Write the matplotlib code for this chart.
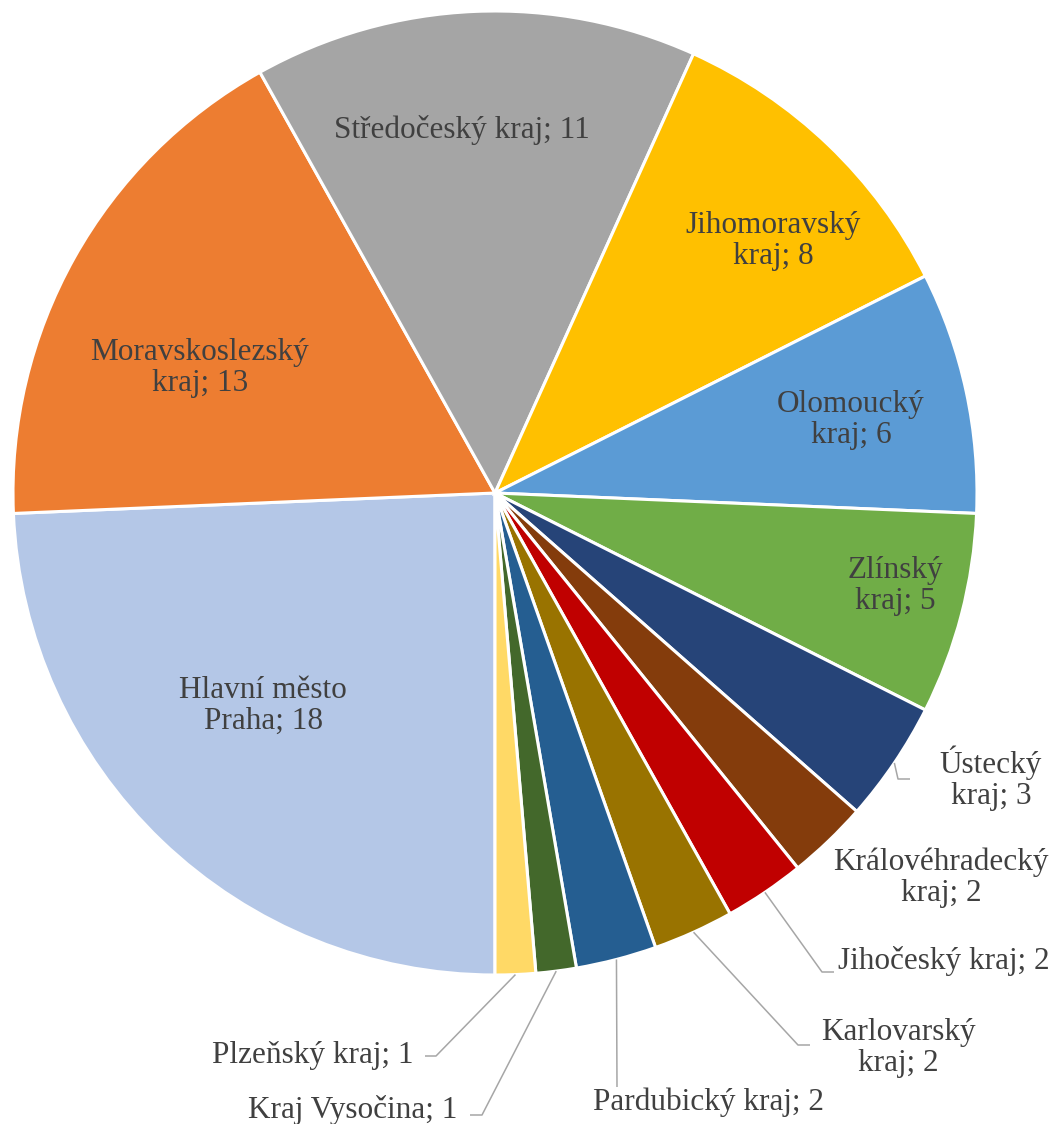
#!/usr/bin/env python3
# pie of regions (kraje), Excel-like look
import numpy as np
import matplotlib
matplotlib.use("Agg")
import matplotlib.pyplot as plt

# ----------------------------- Data -----------------------------
regions = [
    "Hlavní město\nPraha", "Moravskoslezský\nkraj", "Středočeský kraj",
    "Jihomoravský\nkraj", "Olomoucký\nkraj", "Zlínský\nkraj",
    "Ústecký\nkraj", "Královéhradecký\nkraj", "Jihočeský kraj",
    "Karlovarský\nkraj", "Pardubický kraj", "Kraj Vysočina", "Plzeňský kraj",
]
counts = [18, 13, 11, 8, 6, 5, 3, 2, 2, 2, 2, 1, 1]
colors = [
    "#B4C7E7", "#ED7D31", "#A5A5A5", "#FFC000", "#5B9BD5", "#70AD47",
    "#264478", "#843C0C", "#C00000", "#997300", "#255E91", "#43682B", "#FFD966",
]

# ----------------------------- Layout -----------------------------
W, H = 1059, 1124
CX, CY, R = 495, 493, 482          # pie centre / radius in pixels

def px(x, y):
    """pixel (from top-left) -> data coords, pie centre at 0,0, radius 1"""
    return (x - CX) / R, (CY - y) / R

# label anchor (pixel centre), alignment, optional leader (elbow, end) in pixels
label_layout = {
    0:  dict(pos=(263, 706), ha="center"),
    1:  dict(pos=(200, 368), ha="center"),
    2:  dict(pos=(462, 130), ha="center"),
    3:  dict(pos=(773, 241), ha="center"),
    4:  dict(pos=(851, 420), ha="center"),
    5:  dict(pos=(895, 586), ha="center"),
    6:  dict(pos=(991, 778), ha="center", lead=[(898, 779), (910, 779)]),
    7:  dict(pos=(941, 878), ha="center"),
    8:  dict(pos=(838, 961), ha="left", lead=[(822, 972), (834, 972)]),
    9:  dict(pos=(898, 1048), ha="center", lead=[(798, 1045), (810, 1045)]),
    10: dict(pos=(709, 1102), ha="center", lead=[(617, 1087)]),
    11: dict(pos=(457, 1110), ha="right", lead=[(482, 1115), (470, 1115)]),
    12: dict(pos=(414, 1055), ha="right", lead=[(436, 1056), (425, 1056)]),
}

TEXT = "#404040"
LEAD = "#A6A6A6"

fig = plt.figure(figsize=(W / 100, H / 100), dpi=100)
ax = fig.add_axes([0, 0, 1, 1])

wedges, _ = ax.pie(counts, colors=colors, startangle=-90, counterclock=False,
                   radius=1.0, center=(0, 0),
                   wedgeprops=dict(edgecolor="white", linewidth=2.2))

# pie() resets the limits, so set them afterwards
ax.set_xlim(px(0, 0)[0], px(W, 0)[0])
ax.set_ylim(px(0, H)[1], px(0, 0)[1])
ax.set_aspect("equal")
ax.axis("off")

for i, (w, name, v) in enumerate(zip(wedges, regions, counts)):
    lay = label_layout[i]
    tx, ty = px(*lay["pos"])
    ax.text(tx, ty, f"{name}; {v}", ha=lay["ha"], va="center",
            fontsize=22.5, color=TEXT, family="Liberation Serif",
            multialignment="center", linespacing=1.1)
    if "lead" in lay:
        mid = np.deg2rad((w.theta1 + w.theta2) / 2)
        xs = [np.cos(mid)]
        ys = [np.sin(mid)]
        for p in lay["lead"]:
            x, y = px(*p)
            xs.append(x)
            ys.append(y)
        ax.plot(xs, ys, color=LEAD, linewidth=1.1, solid_capstyle="butt")

fig.savefig("out.png", dpi=100)
